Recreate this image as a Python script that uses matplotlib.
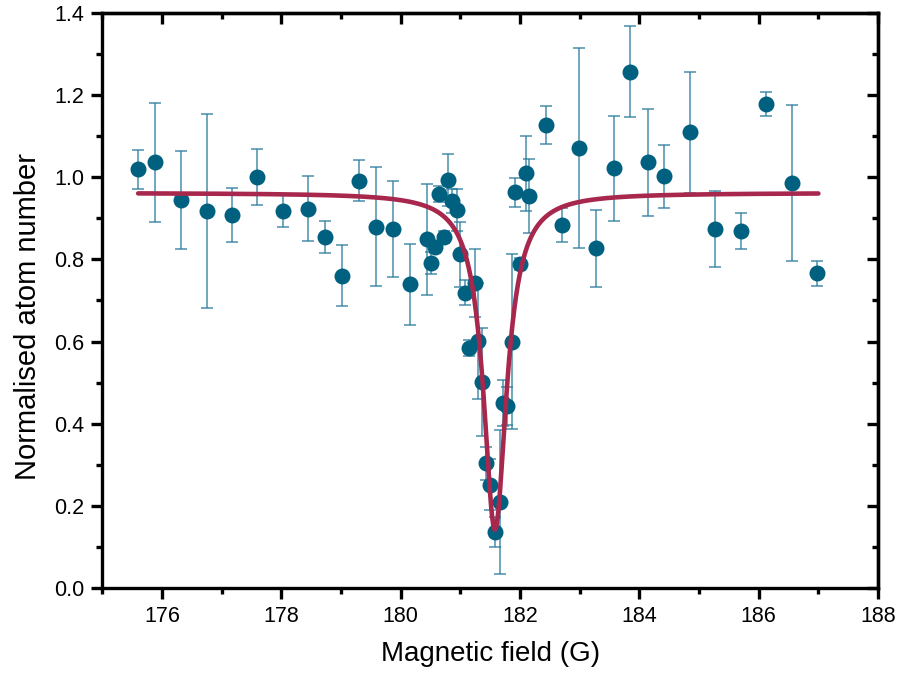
import numpy as np
import matplotlib
matplotlib.use('Agg')
import matplotlib.pyplot as plt
from matplotlib.ticker import MultipleLocator

field = [175.60, 175.89, 176.32, 176.75, 177.17, 177.60, 178.03, 178.45, 178.73, 179.02,
         179.30, 179.59, 179.87, 180.16, 180.44, 180.51, 180.58, 180.65, 180.72, 180.79,
         180.86, 180.94, 181.00, 181.07, 181.14, 181.24, 181.29, 181.36, 181.43, 181.50,
         181.58, 181.66, 181.71, 181.79, 181.87, 181.92, 182.00, 182.10, 182.15, 182.44,
         182.71, 182.99, 183.28, 183.57, 183.85, 184.14, 184.42, 184.85, 185.27, 185.70,
         186.12, 186.55, 186.98]
atoms = [1.019, 1.036, 0.945, 0.918, 0.908, 1.001, 0.918, 0.923, 0.855, 0.760,
         0.991, 0.880, 0.874, 0.739, 0.849, 0.792, 0.831, 0.959, 0.854, 0.993,
         0.942, 0.920, 0.812, 0.719, 0.585, 0.743, 0.601, 0.502, 0.304, 0.252,
         0.137, 0.210, 0.450, 0.443, 0.600, 0.963, 0.789, 1.010, 0.954, 1.127,
         0.884, 1.071, 0.827, 1.022, 1.257, 1.036, 1.002, 1.109, 0.874, 0.869,
         1.178, 0.987, 0.766]
atoms_err = [0.048, 0.145, 0.119, 0.237, 0.065, 0.069, 0.039, 0.079, 0.039, 0.074,
             0.050, 0.144, 0.118, 0.098, 0.135, 0.027, 0.015, 0.020, 0.015, 0.064,
             0.030, 0.051, 0.078, 0.030, 0.020, 0.082, 0.141, 0.132, 0.040, 0.062,
             0.037, 0.175, 0.056, 0.046, 0.212, 0.035, 0.015, 0.091, 0.090, 0.046,
             0.041, 0.244, 0.093, 0.128, 0.111, 0.131, 0.077, 0.147, 0.093, 0.043,
             0.030, 0.190, 0.031]

# Lorentzian fit parameters
fit_baseline = 0.962
fit_depth = 0.82
fit_center = 181.58
fit_hwhm = 0.235
fit_start, fit_stop = 175.6, 187.0

xticks = [176, 178, 180, 182, 184, 186, 188]
yticks = [0.0, 0.2, 0.4, 0.6, 0.8, 1.0, 1.2, 1.4]

plt.rcParams['font.family'] = ['Liberation Sans', 'DejaVu Sans']

marker_color = '#00607F'
err_color = '#2A7B9C'
fit_color = '#A8284D'

fig = plt.figure(figsize=(9, 6.82), dpi=100)
ax = fig.add_axes([0.1137, 0.1378, 0.8619, 0.8432])

ax.errorbar(field, atoms, yerr=atoms_err, fmt='none', ecolor=err_color,
            elinewidth=1.1, capsize=4, capthick=1.1, alpha=0.85, zorder=2)
ax.plot(field, atoms, 'o', color=marker_color, markersize=11.5, markeredgewidth=0, zorder=3)

xf = np.linspace(fit_start, fit_stop, 1500)
yf = fit_baseline - fit_depth / (1 + ((xf - fit_center) / fit_hwhm) ** 2)
ax.plot(xf, yf, color=fit_color, linewidth=3.3, zorder=4, solid_capstyle='round')

ax.set_xlim(175, 188)
ax.set_ylim(0, 1.4)
ax.set_xticks(xticks)
ax.set_yticks(yticks)
ax.set_yticklabels([f'{v:.1f}' for v in yticks])
ax.xaxis.set_minor_locator(MultipleLocator(1))
ax.yaxis.set_minor_locator(MultipleLocator(0.1))

for s in ax.spines.values():
    s.set_linewidth(2.4)

ax.tick_params(which='major', direction='out', length=8, width=2.4, labelsize=15.5, pad=5)
ax.tick_params(which='minor', direction='out', length=4.5, width=2.4)

secx = ax.secondary_xaxis('top')
secx.set_xticks(xticks)
secx.xaxis.set_minor_locator(MultipleLocator(1))
secx.tick_params(which='major', direction='in', length=8, width=2.4, labeltop=False)
secx.tick_params(which='minor', direction='in', length=4.5, width=2.4)
secx.spines['top'].set_linewidth(2.4)

secy = ax.secondary_yaxis('right')
secy.set_yticks(yticks)
secy.yaxis.set_minor_locator(MultipleLocator(0.1))
secy.tick_params(which='major', direction='in', length=8, width=2.4, labelright=False)
secy.tick_params(which='minor', direction='in', length=4.5, width=2.4)
secy.spines['right'].set_linewidth(2.4)

ax.set_xlabel('Magnetic field (G)', fontsize=20, labelpad=10)
ax.set_ylabel('Normalised atom number', fontsize=21, labelpad=9, y=0.473)

fig.savefig('out.png', dpi=100)
